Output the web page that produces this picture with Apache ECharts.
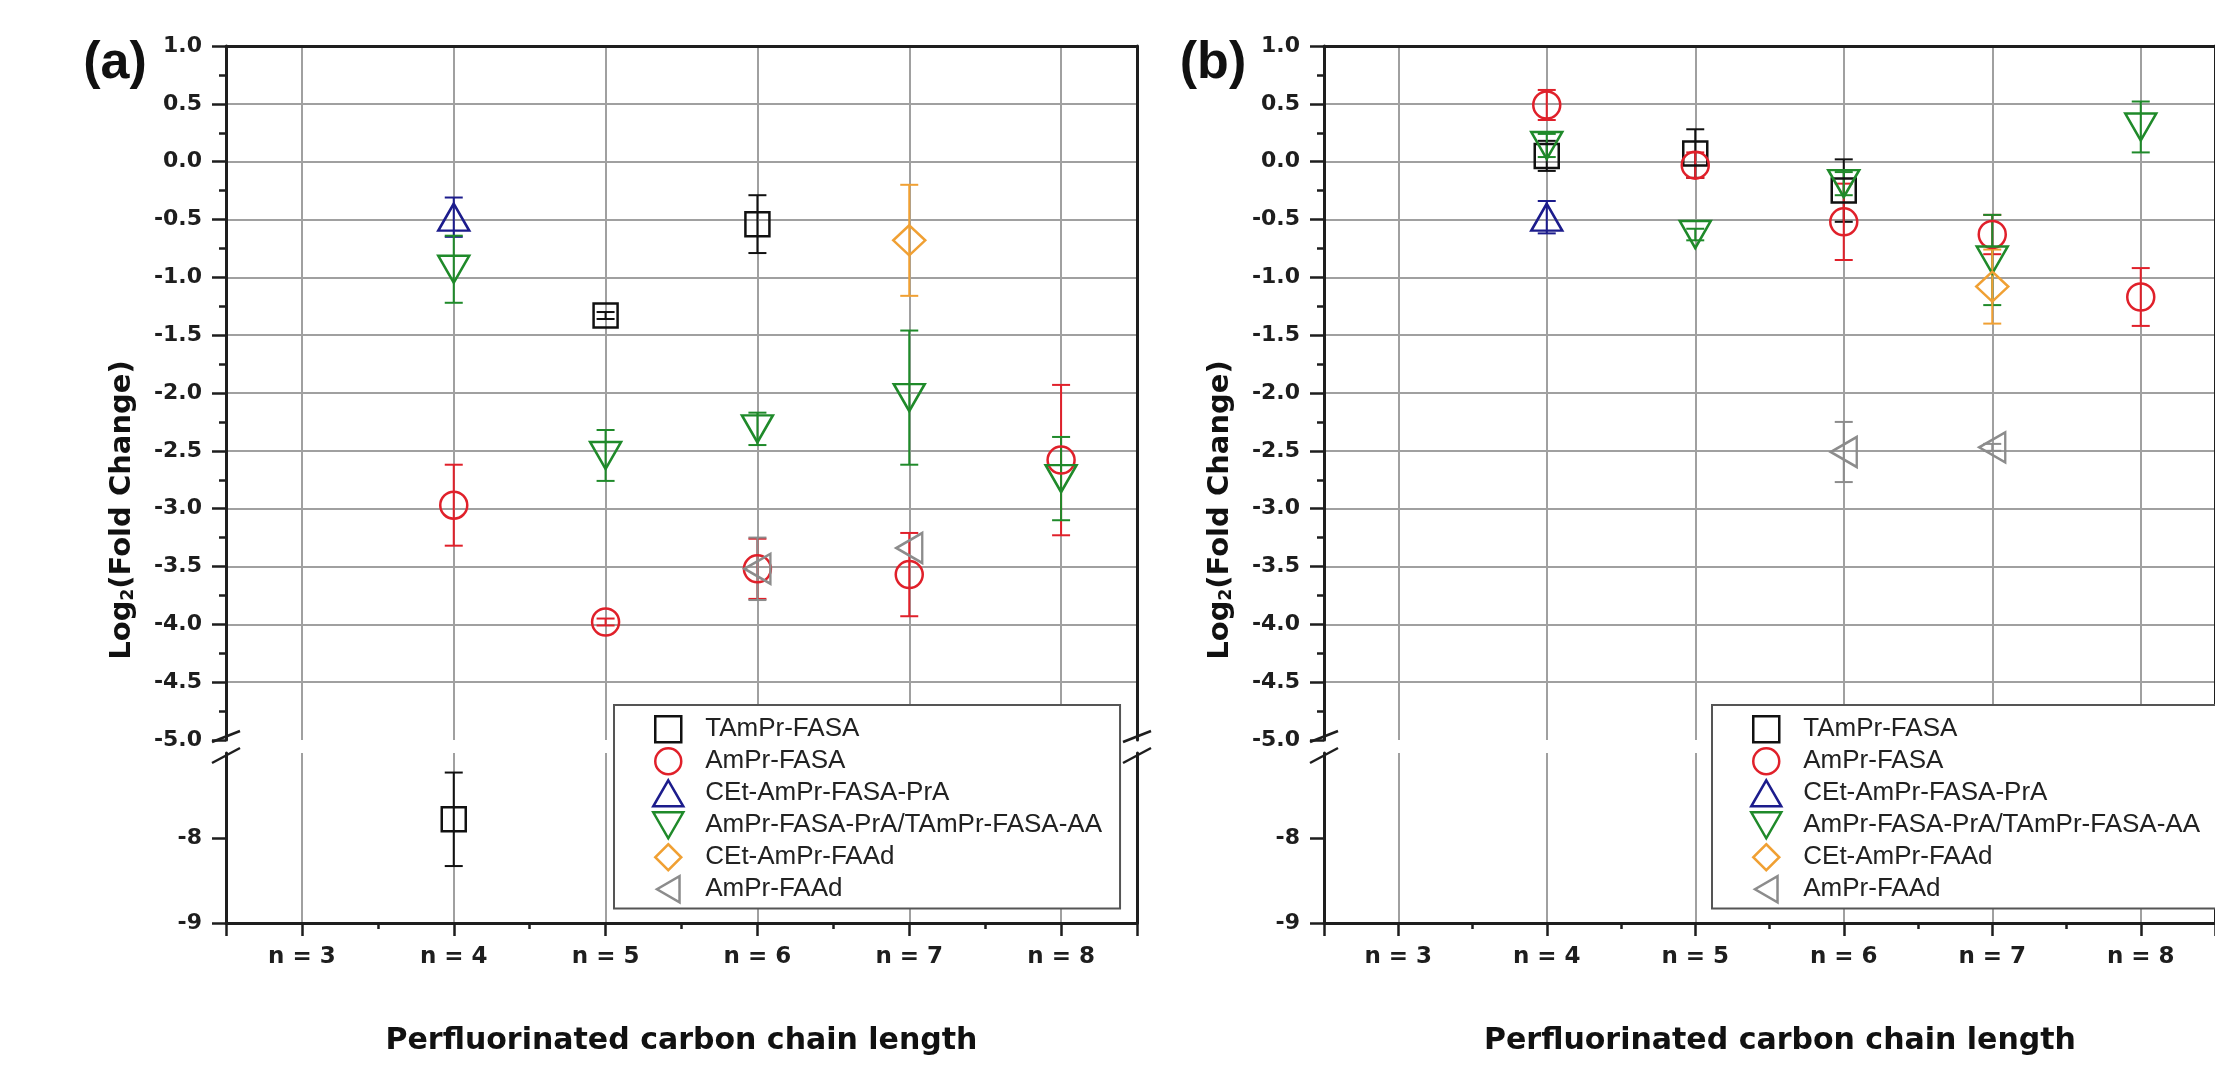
<!DOCTYPE html>
<html><head><meta charset="utf-8">
<script src="https://cdn.jsdelivr.net/npm/echarts@6/dist/echarts.min.js"></script>
<style>html,body{margin:0;padding:0;background:#fff}#c{width:2215px;height:1071px}</style>
</head><body><div id="c"></div>
<script>
// ---------- data ----------
const chainLengths = [3, 4, 5, 6, 7, 8];
const xTickLabels = ['n = 3', 'n = 4', 'n = 5', 'n = 6', 'n = 7', 'n = 8'];
const seriesNames = ['TAmPr-FASA', 'AmPr-FASA', 'CEt-AmPr-FASA-PrA', 'AmPr-FASA-PrA/TAmPr-FASA-AA', 'CEt-AmPr-FAAd', 'AmPr-FAAd'];
const lowerTickLabels = [-9, -8];

// Panel (a): log2 fold change, null = not detected
const a_TAmPrFASA     = [null, -7.78, -1.33, -0.54, null, null];
const a_TAmPrFASA_sd  = [null,  0.55,  0.03,  0.25, null, null];
const a_AmPrFASA      = [null, -2.97, -3.98, -3.52, -3.57, -2.58];
const a_AmPrFASA_sd   = [null,  0.35,  0.03,  0.26,  0.36,  0.65];
const a_CEtAmPrFASAPrA    = [null, -0.48, null, null, null, null];
const a_CEtAmPrFASAPrA_sd = [null,  0.17, null, null, null, null];
const a_PrA_AA        = [null, -0.93, -2.54, -2.31, -2.04, -2.74];
const a_PrA_AA_sd     = [null,  0.29,  0.22,  0.14,  0.58,  0.36];
const a_CEtAmPrFAAd    = [null, null, null, null, -0.68, null];
const a_CEtAmPrFAAd_sd = [null, null, null, null,  0.48, null];
const a_AmPrFAAd      = [null, null, null, -3.52, -3.34, null];
const a_AmPrFAAd_sd   = [null, null, null,  0.27,  0.00, null];

// Panel (b)
const b_TAmPrFASA     = [null, 0.05, 0.07, -0.25, null, null];
const b_TAmPrFASA_sd  = [null, 0.13, 0.21,  0.27, null, null];
const b_AmPrFASA      = [null, 0.49, -0.03, -0.52, -0.63, -1.17];
const b_AmPrFASA_sd   = [null, 0.13,  0.11,  0.33,  0.17,  0.25];
const b_CEtAmPrFASAPrA    = [null, -0.48, null, null, null, null];
const b_CEtAmPrFASAPrA_sd = [null,  0.14, null, null, null, null];
const b_PrA_AA        = [null, 0.14, -0.63, -0.19, -0.85, 0.30];
const b_PrA_AA_sd     = [null, 0.10,  0.05,  0.10,  0.39, 0.22];
const b_CEtAmPrFAAd    = [null, null, null, null, -1.08, null];
const b_CEtAmPrFAAd_sd = [null, null, null, null,  0.32, null];
const b_AmPrFAAd      = [null, null, null, -2.51, -2.47, null];
const b_AmPrFAAd_sd   = [null, null, null,  0.26,  0.03, null];

// ---------- styling ----------
const colors = ['#111111', '#e0202a', '#1c1c8c', '#1f8a2a', '#f0a033', '#8c8c8c'];
const symbols = ['rect', 'circle', 'triangle', 'path://M0,0L10,0L5,8.66Z', 'diamond', 'path://M10,0L10,10L0,5Z'];
const symbolSizes = [[24, 24], 27, [31, 27], [31, 27], [32, 30], [26, 30]];
const legendIcons = ['path://M0,0H10V10H0Z', 'circle', 'path://M5,0L10,8.66L0,8.66Z', 'path://M0,0L10,0L5,8.66Z', 'path://M5,0L10,5L5,10L0,5Z', 'path://M8.66,0L8.66,10L0,5Z'];
const AXIS = '#1e1e1e', GRIDC = '#a0a0a0';
const tickFont = { fontFamily: 'DejaVu Sans', fontWeight: 'bold', color: '#1e1e1e' };
const MARK_W = 2.5;

const panels = [
  { left: 226, width: 911, legendLeft: 614,
    vals: [a_TAmPrFASA, a_AmPrFASA, a_CEtAmPrFASAPrA, a_PrA_AA, a_CEtAmPrFAAd, a_AmPrFAAd],
    sds: [a_TAmPrFASA_sd, a_AmPrFASA_sd, a_CEtAmPrFASAPrA_sd, a_PrA_AA_sd, a_CEtAmPrFAAd_sd, a_AmPrFAAd_sd] },
  { left: 1324, width: 912, legendLeft: 1712,
    vals: [b_TAmPrFASA, b_AmPrFASA, b_CEtAmPrFASAPrA, b_PrA_AA, b_CEtAmPrFAAd, b_AmPrFAAd],
    sds: [b_TAmPrFASA_sd, b_AmPrFASA_sd, b_CEtAmPrFASAPrA_sd, b_PrA_AA_sd, b_CEtAmPrFAAd_sd, b_AmPrFAAd_sd] }
];
const UP_TOP = 46, UP_H = 694, LO_TOP = 753, LO_H = 170;
const BREAK_VALUE = -6;

function points(vals, sds, lower) {
  const out = [];
  chainLengths.forEach((n, i) => {
    const v = vals[i];
    if (v === null) return;
    if ((v < BREAK_VALUE) === lower) out.push([n, v, sds[i] || 0]);
  });
  return out;
}
function errRender(color) {
  return function (params, api) {
    const x = api.value(0), y = api.value(1), e = api.value(2);
    if (!e) return null;
    const p1 = api.coord([x, y + e]), p2 = api.coord([x, y - e]);
    const hw = 9, st = { stroke: color, lineWidth: 2 };
    return { type: 'group', children: [
      { type: 'line', shape: { x1: p1[0], y1: p1[1], x2: p2[0], y2: p2[1] }, style: st },
      { type: 'line', shape: { x1: p1[0] - hw, y1: p1[1], x2: p1[0] + hw, y2: p1[1] }, style: st },
      { type: 'line', shape: { x1: p2[0] - hw, y1: p2[1], x2: p2[0] + hw, y2: p2[1] }, style: st }
    ] };
  };
}

const grid = [], xAxis = [], yAxis = [], series = [], legend = [], graphic = [];
const splitLineStyle = { show: true, showMinLine: false, showMaxLine: false, lineStyle: { color: GRIDC, width: 2 } };

panels.forEach((p, pi) => {
  const gU = grid.length;
  grid.push({ left: p.left, top: UP_TOP, width: p.width, height: UP_H });
  grid.push({ left: p.left, top: LO_TOP, width: p.width, height: LO_H });
  const gL = gU + 1;
  const xU = xAxis.length;
  xAxis.push({ gridIndex: gU, type: 'value', min: 2.5, max: 8.5, splitNumber: 6, position: 'top',
    axisLine: { show: true, onZero: false, lineStyle: { color: AXIS, width: 3 } },
    axisTick: { show: false }, axisLabel: { show: false }, splitLine: splitLineStyle });
  const xL = xAxis.length;
  xAxis.push({ gridIndex: gL, type: 'value', min: 2.5, max: 8.5, splitNumber: 6, position: 'bottom',
    axisLine: { show: true, onZero: false, lineStyle: { color: AXIS, width: 3 } },
    axisTick: { show: true, length: 13, lineStyle: { color: AXIS, width: 2.5 } },
    axisLabel: { customValues: chainLengths, formatter: v => xTickLabels[chainLengths.indexOf(v)], margin: 23, fontSize: 23, ...tickFont },
    splitLine: splitLineStyle });
  xAxis.push({ gridIndex: gL, type: 'value', min: 2.5, max: 8.5, position: 'bottom',
    axisLine: { show: false, onZero: false },
    axisTick: { show: true, length: 6, customValues: [3.5, 4.5, 5.5, 6.5, 7.5], lineStyle: { color: AXIS, width: 2.5 } },
    axisLabel: { show: false }, splitLine: { show: false } });

  const yUL = yAxis.length;
  yAxis.push({ gridIndex: gU, type: 'value', min: -5, max: 1, interval: 0.5, position: 'left',
    axisLine: { show: true, onZero: false, lineStyle: { color: AXIS, width: 3 } },
    axisTick: { show: true, length: 14, lineStyle: { color: AXIS, width: 2.5 } },
    minorTick: { show: true, splitNumber: 2, length: 7, lineStyle: { color: AXIS, width: 2.5 } },
    axisLabel: { formatter: v => v.toFixed(1), margin: 24, fontSize: 22, ...tickFont },
    splitLine: splitLineStyle });
  yAxis.push({ gridIndex: gU, type: 'value', min: -5, max: 1, position: 'right',
    axisLine: { show: true, onZero: false, lineStyle: { color: AXIS, width: 3 } },
    axisTick: { show: false }, axisLabel: { show: false }, splitLine: { show: false } });
  const yLL = yAxis.length;
  yAxis.push({ gridIndex: gL, type: 'value', min: -9, max: -7, interval: 1, position: 'left',
    axisLine: { show: true, onZero: false, lineStyle: { color: AXIS, width: 3 } },
    axisTick: { show: true, length: 14, customValues: lowerTickLabels, lineStyle: { color: AXIS, width: 2.5 } },
    axisLabel: { customValues: lowerTickLabels, formatter: v => String(v), margin: 24, fontSize: 22, ...tickFont },
    splitLine: splitLineStyle });
  yAxis.push({ gridIndex: gL, type: 'value', min: -9, max: -7, position: 'right',
    axisLine: { show: true, onZero: false, lineStyle: { color: AXIS, width: 3 } },
    axisTick: { show: false }, axisLabel: { show: false }, splitLine: { show: false } });

  seriesNames.forEach((name, si) => {
    [[false, xU, yUL], [true, xL, yLL]].forEach(([lower, xi, yi]) => {
      const d = points(p.vals[si], p.sds[si], lower);
      if (lower && d.length === 0) return;
      series.push({ type: 'custom', name: name, xAxisIndex: xi, yAxisIndex: yi, renderItem: errRender(colors[si]),
        encode: { x: 0, y: 1 }, data: d, z: 3, silent: true });
      series.push({ type: 'scatter', name: name, xAxisIndex: xi, yAxisIndex: yi, data: d.map(q => [q[0], q[1]]),
        symbol: symbols[si], symbolSize: symbolSizes[si], symbolKeepAspect: false,
        itemStyle: { color: 'rgba(0,0,0,0)', borderColor: colors[si], borderWidth: MARK_W, opacity: 1 }, z: 4, silent: true });
    });
  });

  legend.push({ orient: 'vertical', left: p.legendLeft, top: 705, selectedMode: false,
    padding: [10, 18, 5, 38], itemGap: 3.5, itemWidth: 32, itemHeight: 26,
    backgroundColor: '#ffffff', borderColor: '#555555', borderWidth: 2, borderRadius: 0,
    textStyle: { fontFamily: 'Liberation Sans', fontSize: 26, lineHeight: 26, color: '#222', padding: [0, 0, 0, 16] },
    data: seriesNames.map((n, si) => ({ name: n, icon: legendIcons[si],
      itemStyle: { color: 'rgba(0,0,0,0)', borderColor: colors[si], borderWidth: MARK_W } })) });

  // break marks on the axis
  const bx = [p.left];
  if (pi === 0) bx.push(p.left + p.width);
  bx.forEach(x0 => {
    [[742, 731], [763, 748]].forEach(([ya, yb]) => {
      graphic.push({ type: 'line', shape: { x1: x0 - 14, y1: ya, x2: x0 + 14, y2: yb }, style: { stroke: AXIS, lineWidth: 2.5 }, z: 10 });
    });
  });

  // panel letter
  graphic.push({ type: 'text', x: p.left - 111, y: 64, style: { text: pi === 0 ? '(a)' : '(b)', font: 'bold 52px "Liberation Sans"',
    fill: '#111', textAlign: 'center', textVerticalAlign: 'middle', align: 'center', verticalAlign: 'middle' } });
  // y title
  graphic.push({ type: 'text', x: p.left - 104, y: 510, rotation: Math.PI / 2,
    style: { text: 'Log{sub|2}(Fold Change)', font: 'bold 29px "DejaVu Sans"', fill: '#111',
      textAlign: 'center', textVerticalAlign: 'middle', align: 'center', verticalAlign: 'middle',
      rich: { sub: { font: 'bold 17px "DejaVu Sans"', fill: '#111', padding: [14, 0, 0, 0] } } } });
  // x title
  graphic.push({ type: 'text', x: p.left + p.width / 2, y: 1041,
    style: { text: 'Perfluorinated carbon chain length', font: 'bold 30px "DejaVu Sans"', fill: '#111',
      textAlign: 'center', textVerticalAlign: 'middle', align: 'center', verticalAlign: 'middle' } });
});

const chart = echarts.init(document.getElementById('c'), null, { renderer: 'canvas' });
chart.setOption({ backgroundColor: '#ffffff', animation: false, grid, xAxis, yAxis, series, legend, graphic });
</script></body></html>
